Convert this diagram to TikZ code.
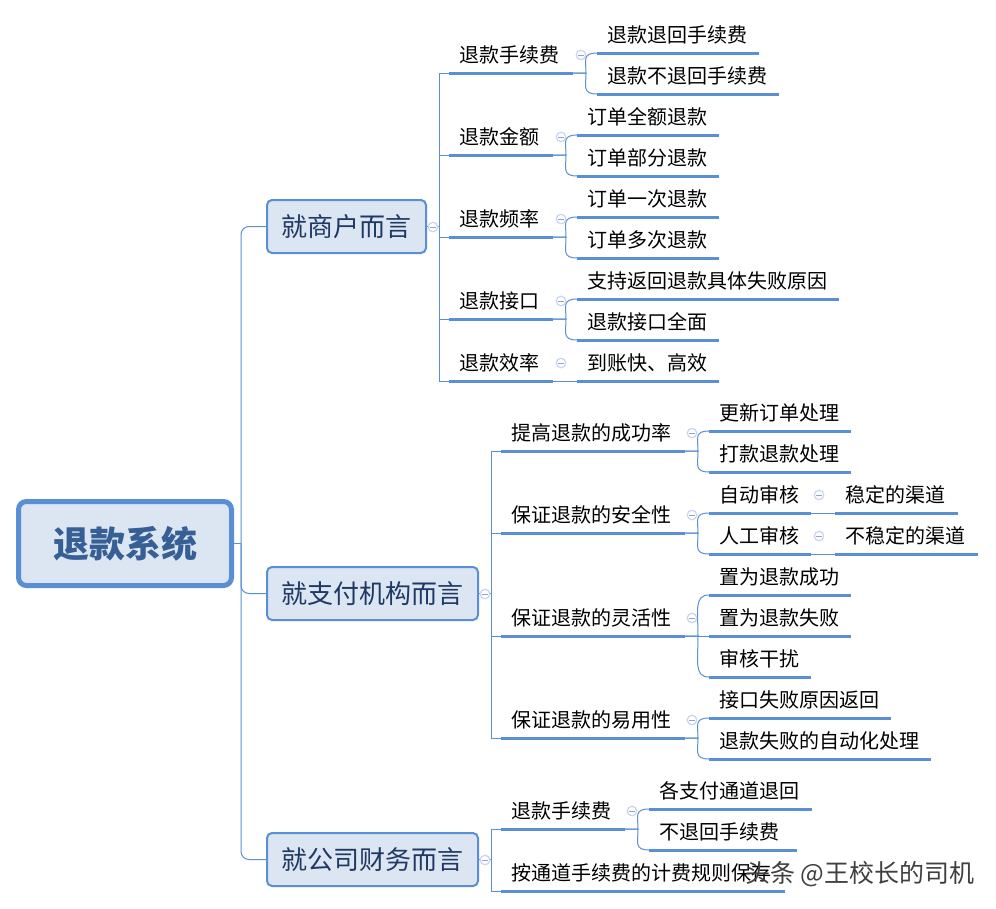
\documentclass[tikz,border=0pt]{standalone}
\usepackage{fontspec}
\setmainfont{Noto Sans CJK SC}
\usetikzlibrary{calc}
\definecolor{lineblue}{HTML}{5B8FD5}
\definecolor{boxfill}{HTML}{DCE6F2}
\definecolor{navy}{HTML}{1F3864}
\definecolor{rootink}{HTML}{365F96}
\definecolor{foldring}{HTML}{C9D4F0}
\definecolor{foldbar}{HTML}{8FA3CC}
\tikzset{
  x=1pt,y=-1pt,
  link/.style={draw=lineblue,line width=1pt},
  topic/.style={anchor=south west,inner xsep=0pt,inner ysep=0pt,outer sep=0pt,text depth=10.5pt,text height=18pt,
    font=\fontsize{20}{24}\selectfont,text=black},
  rule/.style={draw=lineblue,line width=3pt},
  rootbox/.style={draw=lineblue,line width=5pt,fill=boxfill,rounded corners=8pt,minimum width=213pt,minimum height=84pt,
    inner sep=0pt,outer sep=0pt,text=rootink,font=\fontsize{36}{40}\selectfont\bfseries},
  mainbox/.style={draw=lineblue,line width=2pt,fill=boxfill,rounded corners=5pt,minimum height=53pt,anchor=west,
    inner sep=0pt,outer sep=0pt,text=navy,font=\fontsize{26}{30}\selectfont},
  fold/.style={circle,draw=foldring,line width=1.2pt,fill=white,minimum size=9.5pt,inner sep=0pt,outer sep=0pt,
    path picture={\draw[foldbar,line width=1pt] ($(path picture bounding box.center)+(-3,0)$) -- ($(path picture bounding box.center)+(3,0)$);}},
  mark text/.style={font=\fontsize{25}{28}\selectfont,text=black!75,anchor=base west,inner sep=0pt}
}
% name, x1, x2, y of the rule, text
\newcommand\topicnode[5]{%
  \pgfmathsetmacro\topicw{#3-#2}%
  \node[topic,text width=\topicw pt] (#1) at (#2,#4) {\hspace*{10.5pt}#5};%
  \draw[rule] (#1.south west) -- (#1.south east);%
}
% parent, child: curved fork
\newcommand\forklink[2]{%
  \path (#2.south west) ++(-11,0) coordinate (forkA);%
  \coordinate (forkF) at (forkA |- #1.south east);%
  \draw[link] (#1.south east) -- (forkF) .. controls ($(forkF)!.62!(forkA)$) and ($(forkA)+(-4,0)$) .. (#2.south west);%
}
\newcommand\straightlink[2]{\draw[link] (#1.south east) -- (#2.south west);}
% spine coordinate, child
\newcommand\spinelink[2]{\draw[link] (#2.south west -| #1) -- (#2.south west);}
\begin{document}
\begin{tikzpicture}
\useasboundingbox[fill=white] (0,0) rectangle (996,908);

% main boxes
\node[rootbox] (root) at (125,543.5) {退款系统};
\node[mainbox,minimum width=159pt] (merch) at (267,226.5) {就商户而言};
\node[mainbox,minimum width=211pt] (pay) at (267,593.5) {就支付机构而言};
\node[mainbox,minimum width=211pt] (fin) at (267,859.5) {就公司财务而言};

% merchant branch
\topicnode{ma}{449}{573}{73}{退款手续费}
\topicnode{mb}{449}{553}{155}{退款金额}
\topicnode{mc}{449}{553}{237}{退款频率}
\topicnode{md}{449}{553}{319}{退款接口}
\topicnode{me}{449}{553}{381}{退款效率}
\topicnode{ma1}{597}{759}{53}{退款退回手续费}
\topicnode{ma2}{597}{779}{94}{退款不退回手续费}
\topicnode{mb1}{577}{719}{135}{订单全额退款}
\topicnode{mb2}{577}{719}{176}{订单部分退款}
\topicnode{mc1}{577}{719}{217}{订单一次退款}
\topicnode{mc2}{577}{719}{258}{订单多次退款}
\topicnode{md1}{577}{839}{299}{支持返回退款具体失败原因}
\topicnode{md2}{577}{719}{340}{退款接口全面}
\topicnode{me1}{577}{719}{381}{到账快、高效}

% payment branch
\topicnode{pa}{501}{685}{451}{提高退款的成功率}
\topicnode{pb}{501}{685}{533}{保证退款的安全性}
\topicnode{pc}{501}{685}{636}{保证退款的灵活性}
\topicnode{pd}{501}{685}{738}{保证退款的易用性}
\topicnode{pa1}{709}{851}{431}{更新订单处理}
\topicnode{pa2}{709}{851}{472}{打款退款处理}
\topicnode{pb1}{709}{811}{513}{自动审核}
\topicnode{pb2}{709}{811}{554}{人工审核}
\topicnode{pb1x}{835}{958}{513}{稳定的渠道}
\topicnode{pb2x}{835}{978}{554}{不稳定的渠道}
\topicnode{pc1}{709}{851}{595}{置为退款成功}
\topicnode{pc2}{709}{851}{636}{置为退款失败}
\topicnode{pc3}{709}{811}{677}{审核干扰}
\topicnode{pd1}{709}{891}{718}{接口失败原因返回}
\topicnode{pd2}{709}{931}{759}{退款失败的自动化处理}

% finance branch
\topicnode{fa}{501}{625}{829}{退款手续费}
\topicnode{fb}{501}{785}{891}{按通道手续费的计费规则保存}
\topicnode{fa1}{649}{812}{809}{各支付通道退回}
\topicnode{fa2}{649}{797}{850}{不退回手续费}

% root to main boxes
\coordinate (rootspine) at (241,543.5);
\draw[link] (root.east) -- (rootspine);
\draw[link,rounded corners=8pt] (rootspine) |- (merch.west);
\draw[link,rounded corners=8pt] (rootspine) |- (pay.west);
\draw[link,rounded corners=8pt] (rootspine) |- (fin.west);

% merchant spine
\coordinate (ms) at (439,226.5);
\draw[link] (merch.east) -- (ms);
\draw[link] (ma.south west) -- (ma.south west -| ms) -- (me.south west -| ms) -- (me.south west);
\spinelink{ms}{mb}\spinelink{ms}{mc}\spinelink{ms}{md}
\forklink{ma}{ma1}\forklink{ma}{ma2}
\forklink{mb}{mb1}\forklink{mb}{mb2}
\forklink{mc}{mc1}\forklink{mc}{mc2}
\forklink{md}{md1}\forklink{md}{md2}
\straightlink{me}{me1}

% payment spine
\coordinate (ps) at (491,593.5);
\draw[link] (pay.east) -- (ps);
\draw[link] (pa.south west) -- (pa.south west -| ps) -- (pd.south west -| ps) -- (pd.south west);
\spinelink{ps}{pb}\spinelink{ps}{pc}
\forklink{pa}{pa1}\forklink{pa}{pa2}
\forklink{pb}{pb1}\forklink{pb}{pb2}
\straightlink{pb1}{pb1x}\straightlink{pb2}{pb2x}
\forklink{pc}{pc1}\straightlink{pc}{pc2}\forklink{pc}{pc3}
\forklink{pd}{pd1}\forklink{pd}{pd2}

% finance spine
\coordinate (fs) at (491,859.5);
\draw[link] (fin.east) -- (fs);
\draw[link] (fa.south west) -- (fa.south west -| fs) -- (fb.south west -| fs) -- (fb.south west);
\forklink{fa}{fa1}\forklink{fa}{fa2}

% collapse markers
\foreach \fx/\fy/\fn in {433/227/f1,485/594/f2,485/860/f3,581/55/f4,561/137/f5,561/219/f6,561/301/f7,561/363/f8,
  692/433/f9,692/515/f10,692/618/f11,692/720/f12,819/495/f13,819/536/f14,632/811/f15}
  \node[fold] (\fn) at (\fx,\fy) {};

% watermark
\node[mark text] (wm) at (745,882) {头条 @王校长的司机};
\end{tikzpicture}
\end{document}
